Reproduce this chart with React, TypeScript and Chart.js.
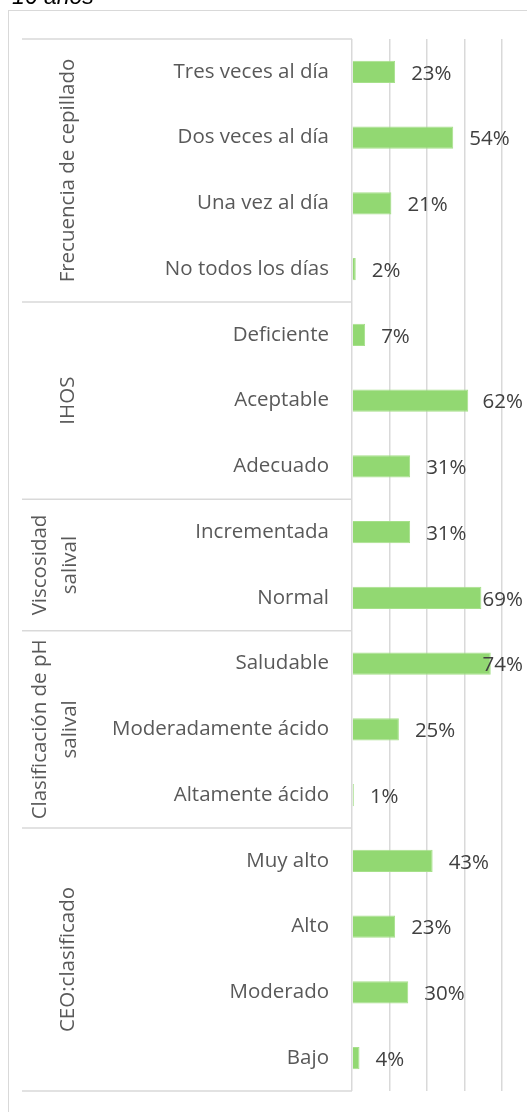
import { useEffect, useRef } from "react";
import { Chart, registerables } from "chart.js";

Chart.register(...registerables);

const titleText = "16 años";
const categories = [
  "Tres veces al día",
  "Dos veces al día",
  "Una vez al día",
  "No todos los días",
  "Deficiente",
  "Aceptable",
  "Adecuado",
  "Incrementada",
  "Normal",
  "Saludable",
  "Moderadamente ácido",
  "Altamente ácido",
  "Muy alto",
  "Alto",
  "Moderado",
  "Bajo",
];
const values = [23, 54, 21, 2, 7, 62, 31, 31, 69, 74, 25, 1, 43, 23, 30, 4];
const groupLabels = [
  ["Frecuencia de cepillado"],
  ["IHOS"],
  ["Viscosidad", "salival"],
  ["Clasificación de pH", "salival"],
  ["CEO:clasificado"],
];
const groupSizes = [4, 3, 2, 3, 4];
const xMin = 0;
const xMax = 80;
const xStep = 20;

const FONT = "'Open Sans', sans-serif";
const FSIZE = 20.5;
const GRID = "#d9d9d9";

export default function App() {
  const ref = useRef<HTMLCanvasElement | null>(null);

  useEffect(() => {
    const canvas = ref.current;
    if (!canvas) return;

    const decor = {
      id: "decor",
      beforeDraw(chart: any) {
        const ctx = chart.ctx;
        ctx.save();
        ctx.fillStyle = "#ffffff";
        ctx.fillRect(0, 0, chart.width, chart.height);
        ctx.strokeStyle = GRID;
        ctx.lineWidth = 1;
        ctx.strokeRect(8.5, 10.5, 600, 1200);
        ctx.fillStyle = "#000000";
        ctx.font = `italic 23px 'Liberation Sans', Arial, sans-serif`;
        ctx.textBaseline = "alphabetic";
        ctx.textAlign = "left";
        ctx.fillText(titleText, 12, 4);
        ctx.restore();
      },
      afterDraw(chart: any) {
        const ctx = chart.ctx;
        const y = chart.scales.y;
        const area = chart.chartArea;
        const step = y.getPixelForValue(1) - y.getPixelForValue(0);
        ctx.save();
        ctx.strokeStyle = GRID;
        ctx.lineWidth = 1.5;
        let idx = 0;
        const bounds: number[] = [y.getPixelForValue(0) - step / 2];
        groupSizes.forEach((n) => {
          idx += n;
          bounds.push(y.getPixelForValue(idx - 1) + step / 2);
        });
        bounds.forEach((b) => {
          ctx.beginPath();
          ctx.moveTo(22, b);
          ctx.lineTo(area.left, b);
          ctx.stroke();
        });
        ctx.fillStyle = "#595959";
        ctx.font = `${FSIZE}px ${FONT}`;
        ctx.textAlign = "center";
        ctx.textBaseline = "middle";
        groupLabels.forEach((lines, gi) => {
          const cy = (bounds[gi] + bounds[gi + 1]) / 2;
          const xs = lines.length === 1 ? [68] : [40, 70];
          lines.forEach((ln, li) => {
            ctx.save();
            ctx.translate(xs[li], cy);
            ctx.rotate(-Math.PI / 2);
            ctx.fillText(ln, 0, 0);
            ctx.restore();
          });
        });
        const meta = chart.getDatasetMeta(0);
        ctx.fillStyle = "#404040";
        ctx.textAlign = "left";
        meta.data.forEach((bar: any, i: number) => {
          const txt = values[i] + "%";
          const w = ctx.measureText(txt).width;
          const x = Math.min(bar.x + 16, chart.width - 4 - w);
          ctx.fillText(txt, x, bar.y + 2);
        });
        ctx.restore();
      },
    };

    const chart = new Chart(canvas, {
      type: "bar",
      data: {
        labels: categories,
        datasets: [
          {
            data: values,
            backgroundColor: "#92d872",
            borderColor: "#a6e08a",
            borderWidth: 1,
            barPercentage: 0.34,
            categoryPercentage: 1,
          },
        ],
      },
      options: {
        indexAxis: "y",
        responsive: false,
        animation: false,
        devicePixelRatio: 1,
        layout: { padding: { left: 0, top: 39, right: 25, bottom: 21 } },
        plugins: {
          legend: { display: false },
          tooltip: { enabled: false },
          title: { display: false },
        },
        scales: {
          x: {
            min: xMin,
            max: xMax,
            ticks: { display: false, stepSize: xStep },
            grid: { color: GRID, lineWidth: 1.5, drawTicks: false },
            border: { display: false },
            afterFit: (s: any) => {
              s.height = 0;
              s.paddingLeft = 0;
              s.paddingRight = 0;
            },
          },
          y: {
            ticks: {
              color: "#595959",
              font: { family: "'Open Sans', sans-serif", size: FSIZE },
              padding: 23,
              autoSkip: false,
            },
            grid: { display: false, drawTicks: false },
            border: { display: false },
            afterFit: (s: any) => {
              s.width = 352;
              s.paddingTop = 0;
              s.paddingBottom = 0;
            },
          },
        },
      },
      plugins: [decor],
    });
    return () => chart.destroy();
  }, []);

  return (
    <div style={{ position: "absolute", left: 0, top: 0, width: 527, height: 1112 }}>
      <canvas ref={ref} width={527} height={1112} style={{ width: 527, height: 1112, display: "block" }} />
    </div>
  );
}
